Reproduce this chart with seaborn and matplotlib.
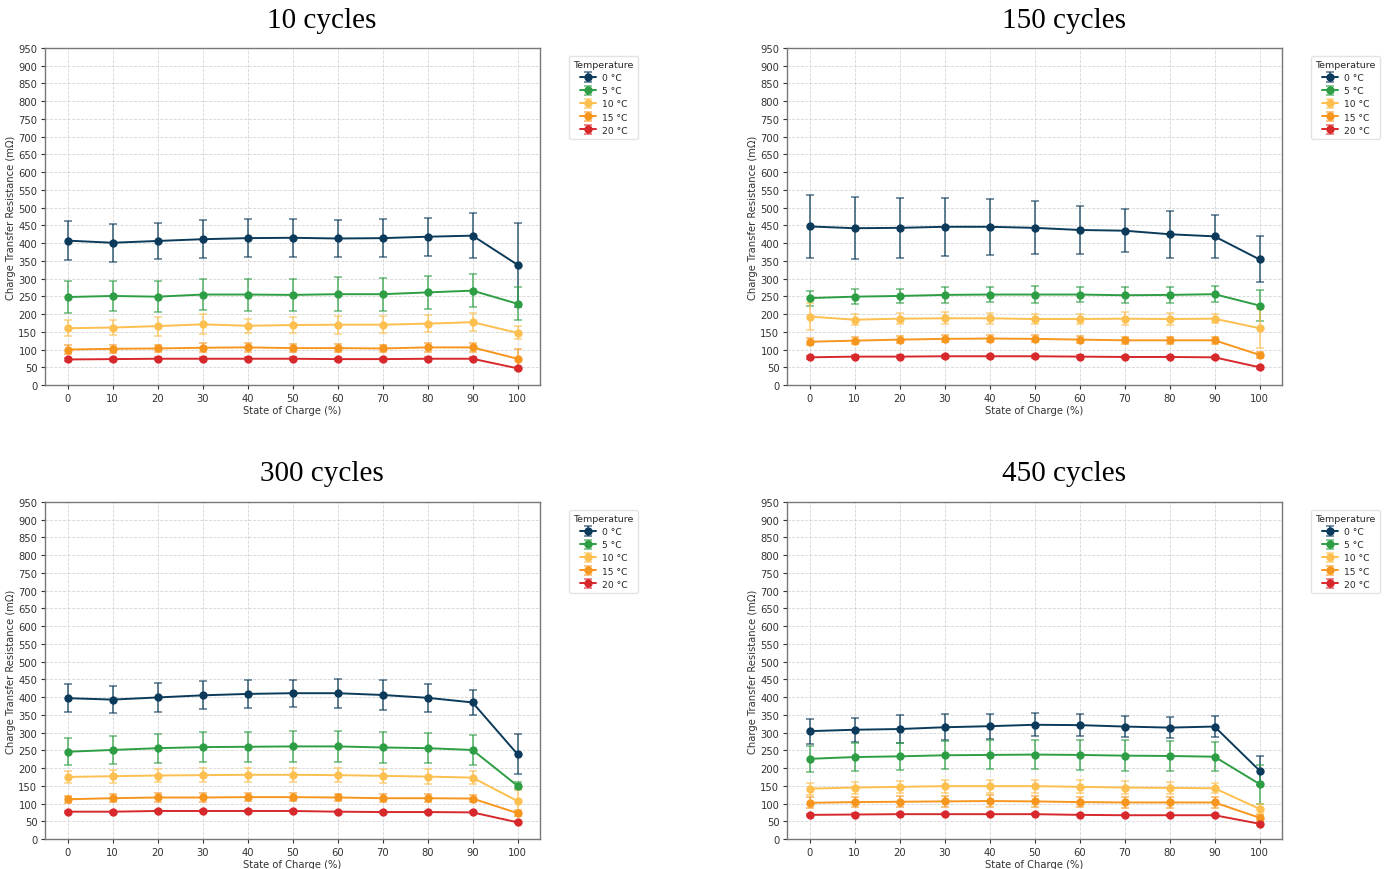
import numpy as np
import pandas as pd
import matplotlib
matplotlib.use("Agg")
import matplotlib.pyplot as plt
import seaborn as sns
from matplotlib.container import ErrorbarContainer

# State of charge (%) sampled for each test
soc = [0, 10, 20, 30, 40, 50, 60, 70, 80, 90, 100]
temperatures = ["0 °C", "5 °C", "10 °C", "15 °C", "20 °C"]
cycle_titles = ["10 cycles", "150 cycles", "300 cycles", "450 cycles"]

# Charge transfer resistance means (mΩ), one list per temperature
rct_10_mean = [
    [407, 401, 406, 411, 414, 415, 413, 414, 418, 421, 339],
    [248, 251, 249, 255, 255, 254, 256, 256, 261, 266, 229],
    [160, 162, 166, 171, 167, 169, 170, 170, 173, 177, 147],
    [100, 102, 103, 105, 106, 104, 104, 103, 106, 106, 74],
    [72, 73, 74, 74, 74, 74, 73, 73, 74, 74, 47],
]
rct_10_err = [
    [54, 54, 52, 54, 54, 53, 53, 54, 54, 64, 119],
    [44, 43, 44, 44, 45, 45, 48, 46, 46, 46, 46],
    [22, 22, 27, 28, 20, 22, 25, 24, 25, 25, 18],
    [12, 11, 11, 12, 13, 12, 12, 11, 13, 13, 27],
    [4, 4, 4, 4, 4, 4, 4, 4, 4, 4, 4],
]

rct_150_mean = [
    [447, 442, 443, 446, 446, 443, 437, 435, 425, 419, 354],
    [245, 249, 251, 254, 255, 255, 255, 253, 254, 256, 224],
    [193, 184, 187, 188, 188, 186, 186, 187, 186, 187, 160],
    [122, 125, 128, 130, 131, 130, 128, 126, 126, 126, 85],
    [78, 80, 80, 81, 81, 81, 80, 79, 79, 78, 50],
]
rct_150_err = [
    [90, 88, 85, 82, 79, 75, 69, 61, 66, 61, 65],
    [21, 21, 21, 22, 22, 23, 22, 22, 22, 23, 44],
    [38, 15, 16, 17, 16, 15, 15, 19, 18, 12, 55],
    [10, 10, 10, 10, 10, 10, 10, 10, 10, 10, 8],
    [4, 4, 4, 4, 4, 4, 4, 4, 4, 4, 4],
]

rct_300_mean = [
    [397, 393, 399, 405, 409, 411, 411, 406, 398, 385, 239],
    [246, 251, 256, 259, 260, 261, 261, 258, 256, 251, 150],
    [175, 177, 179, 180, 181, 181, 180, 178, 176, 173, 107],
    [112, 115, 117, 117, 118, 118, 117, 115, 115, 114, 73],
    [77, 77, 79, 79, 79, 79, 77, 76, 76, 75, 47],
]
rct_300_err = [
    [40, 37, 40, 39, 39, 38, 41, 41, 40, 35, 57],
    [38, 40, 41, 42, 43, 43, 43, 44, 43, 41, 10],
    [17, 18, 19, 19, 19, 19, 20, 20, 20, 19, 30],
    [10, 11, 12, 12, 12, 12, 11, 11, 11, 10, 8],
    [3, 3, 3, 3, 3, 3, 3, 3, 3, 3, 3],
]

rct_450_mean = [
    [304, 308, 310, 315, 318, 322, 321, 317, 314, 317, 193],
    [226, 231, 233, 236, 237, 238, 237, 235, 234, 232, 155],
    [142, 145, 147, 149, 149, 149, 147, 145, 144, 143, 85],
    [102, 104, 105, 106, 107, 106, 104, 103, 103, 103, 60],
    [68, 69, 70, 70, 70, 70, 68, 67, 67, 67, 43],
]
rct_450_err = [
    [35, 34, 40, 37, 35, 32, 31, 29, 30, 29, 42],
    [37, 39, 39, 40, 41, 41, 43, 44, 43, 41, 55],
    [17, 17, 17, 18, 18, 18, 18, 18, 17, 14, 15],
    [15, 15, 15, 16, 16, 15, 14, 15, 15, 15, 8],
    [3, 3, 3, 3, 3, 3, 3, 3, 3, 3, 3],
]

palette = ["#0b3a5a", "#2e9e44", "#fdbf4f", "#f7961e", "#d7282c"]

panels = [
    (rct_10_mean, rct_10_err),
    (rct_150_mean, rct_150_err),
    (rct_300_mean, rct_300_err),
    (rct_450_mean, rct_450_err),
]

sns.set_style("ticks", {
    "axes.edgecolor": "#777777",
    "xtick.color": "#333333",
    "ytick.color": "#333333",
})
plt.rcParams["font.family"] = ["DejaVu Sans"]

fig = plt.figure(figsize=(13.87, 8.70), dpi=100)

ax_lefts = [45 / 1387, 787 / 1387]
ax_bottoms = [1 - 386 / 870, 1 - 840 / 870]
ax_w = 495 / 1387
ax_h = 337 / 870
title_x = [322 / 1387, 1064 / 1387]
title_y = [1 - 21 / 870, 1 - 474 / 870]

for idx, (means, errs) in enumerate(panels):
    row, col = divmod(idx, 2)
    ax = fig.add_axes([ax_lefts[col], ax_bottoms[row], ax_w, ax_h])

    df = pd.DataFrame({
        "soc": np.tile(soc, len(temperatures)),
        "rct": np.concatenate(means),
        "err": np.concatenate(errs),
        "temp": np.repeat(temperatures, len(soc)),
    })

    sns.lineplot(data=df, x="soc", y="rct", hue="temp", hue_order=temperatures,
                 palette=palette, marker="o", markersize=6, markeredgewidth=0,
                 linewidth=1.4, legend=False, ax=ax, zorder=3)

    handles = []
    for i, t in enumerate(temperatures):
        sub = df[df["temp"] == t]
        cont = ax.errorbar(sub["soc"], sub["rct"], yerr=sub["err"], fmt="none",
                           ecolor=palette[i], elinewidth=1.3, capsize=3,
                           capthick=1.1, alpha=0.7, zorder=2)
        handles.append(ErrorbarContainer((ax.lines[i], cont[1], cont[2]),
                                         has_yerr=True))

    ax.set_xlim(-5, 105)
    ax.set_ylim(0, 950)
    ax.set_xticks(soc)
    ax.set_yticks(np.arange(0, 951, 50))
    ax.tick_params(labelsize=7.2, length=3, width=0.8, pad=2.5)
    ax.grid(True, linestyle="--", linewidth=0.6, color="#cccccc", alpha=0.8)
    for s in ax.spines.values():
        s.set_linewidth(1.0)
    ax.set_xlabel("State of Charge (%)", fontsize=7.2, color="#333333", labelpad=2)
    ax.set_ylabel("Charge Transfer Resistance (mΩ)", fontsize=7.2,
                  color="#333333", labelpad=2)

    leg = ax.legend(handles, temperatures, title="Temperature", fontsize=6.6,
                    title_fontsize=6.8, loc="upper left",
                    bbox_to_anchor=(1.05, 0.99), handlelength=1.8,
                    handletextpad=0.6, labelspacing=0.45, borderpad=0.45,
                    frameon=True)
    leg.get_frame().set_edgecolor("#dddddd")

    fig.text(title_x[col], title_y[row], cycle_titles[idx], ha="center",
             va="center", fontsize=21, color="black",
             family=["Liberation Serif", "DejaVu Serif"])

fig.savefig("out.png", dpi=100)
